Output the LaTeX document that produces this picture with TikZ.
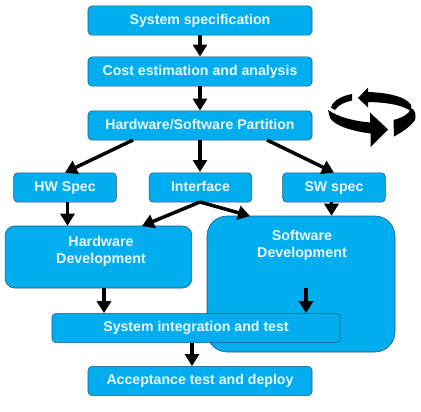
\documentclass[tikz,border=0pt]{standalone}
\usepackage{fontspec}
\setmainfont{Liberation Sans}
\usetikzlibrary{arrows.meta,calc}
\definecolor{FlowBlue}{RGB}{0,174,239}
\definecolor{FlowEdge}{RGB}{30,85,120}
\definecolor{FlowText}{RGB}{235,248,253}
\tikzset{
  flow/box/.style={
    draw=FlowEdge,
    thin,
    rounded corners=3pt,
    fill=FlowBlue,
    align=center,
    text=FlowText,
    minimum height=22pt,
    inner sep=0pt,
    font=\fontsize{10.6}{13}\selectfont\bfseries
  },
  flow/label/.style={align=center, text=FlowText, inner sep=0pt, font=\fontsize{10.7}{13}\selectfont\bfseries},
  flow/arrow/.style={-{Triangle[length=9pt,width=10.5pt]}, line width=2.6pt, draw=black},
  flow/icon/.style={fill=black, draw=none}
}

\begin{document}
\begin{tikzpicture}[x=0.75pt,y=-0.75pt]
  \useasboundingbox (0,0) rectangle (421,411);
  \foreach \nm/\txt/\y in {
    spec/System specification/20.5,cost/Cost estimation and analysis/71.5,
    part/Hardware\slash Software Partition/125.5,accept/Acceptance test and deploy/381}
  {\node[flow/box,minimum width=168pt,text depth=2.5pt,text height=8pt] (\nm) at (200,\y) {\txt};}
  \foreach \nm/\txt/\x in {
    hwspec/HW Spec/65,iface/Interface/200.5,swspec/SW spec/334}
  {\node[flow/box,minimum width=77pt,text depth=2.5pt,text height=8pt] (\nm) at (\x,187.5) {\txt};}
  \node[flow/box,rounded corners=7pt,minimum width=140pt,minimum height=46.5pt] (hwdev) at (98.5,257) {};
  \node[flow/label] (hwtxt) at (101,251) {Hardware\\Development};
  \node[flow/box,rounded corners=15pt,minimum width=141pt,minimum height=102pt] (swdev) at (301,284) {};
  \node[flow/label] (swtxt) at (302,245) {Software\\Development};
  \node[flow/box,minimum width=216pt,text depth=2.5pt,text height=8pt] (integ) at (196,328) {System integration and test};

  \coordinate (hwout) at (104,288);
  \coordinate (swout) at (306,288);
  \coordinate (integout) at (192,343);
  \coordinate (partl) at (133,140);
  \coordinate (partr) at (267,140);
  \coordinate (hwin) at (142,226);
  \coordinate (swin) at (250,216);
  \coordinate (ifout) at (200,202);
  \coordinate (hwspecout) at (67.5,202);
  \coordinate (swspecout) at (331.5,202);
  \coordinate (ifin) at (200,172);

  \draw[flow/arrow] (spec.south) -- (cost.north);
  \draw[flow/arrow] (cost.south) -- (part.north);
  \draw[flow/arrow] (part.south) -- (ifin);
  \draw[flow/arrow] (partl) -- (hwspec.north);
  \draw[flow/arrow] (partr) -- (swspec.north);
  \draw[flow/arrow] (hwspecout) -- (hwspecout |- hwdev.north);
  \draw[flow/arrow] (swspecout) -- (swspecout |- swdev.north);
  \draw[flow/arrow] (ifout) -- (hwin);
  \draw[flow/arrow] (ifout) -- (swin);
  \draw[flow/arrow] (hwout) -- (hwout |- integ.north);
  \draw[flow/arrow] (swout) -- (swout |- integ.north);
  \draw[flow/arrow] (integout) -- (integout |- accept.north);

  % rotation icon
  \fill[flow/icon] (328,110) .. controls (340,118) and (355,121) .. (370,122.5) -- (370,112.5)
    -- (388,129.5) -- (370.5,147) -- (370.5,133.5) .. controls (352,131) and (335,126) .. (330,118) -- cycle;
  \fill[flow/icon] (393.5,120) .. controls (401,118) and (410,114) .. (411,108)
    .. controls (416,110) and (416,116) .. (415,120) .. controls (410,127) and (402,132) .. (394,136.5) -- cycle;
  \fill[flow/icon] (368,92) .. controls (385,92.5) and (406,96) .. (411,105) -- (411,111)
    .. controls (400,104) and (385,102.5) .. (368,102) -- (368,107.5) -- (358,98) -- (368,87.5) -- cycle;
  \fill[flow/icon] (352,94) -- (352,100.5) .. controls (345,102) and (338,105) .. (335,110)
    -- (331,107.5) .. controls (333,100) and (342,96) .. (352,94) -- cycle;
\end{tikzpicture}
\end{document}
